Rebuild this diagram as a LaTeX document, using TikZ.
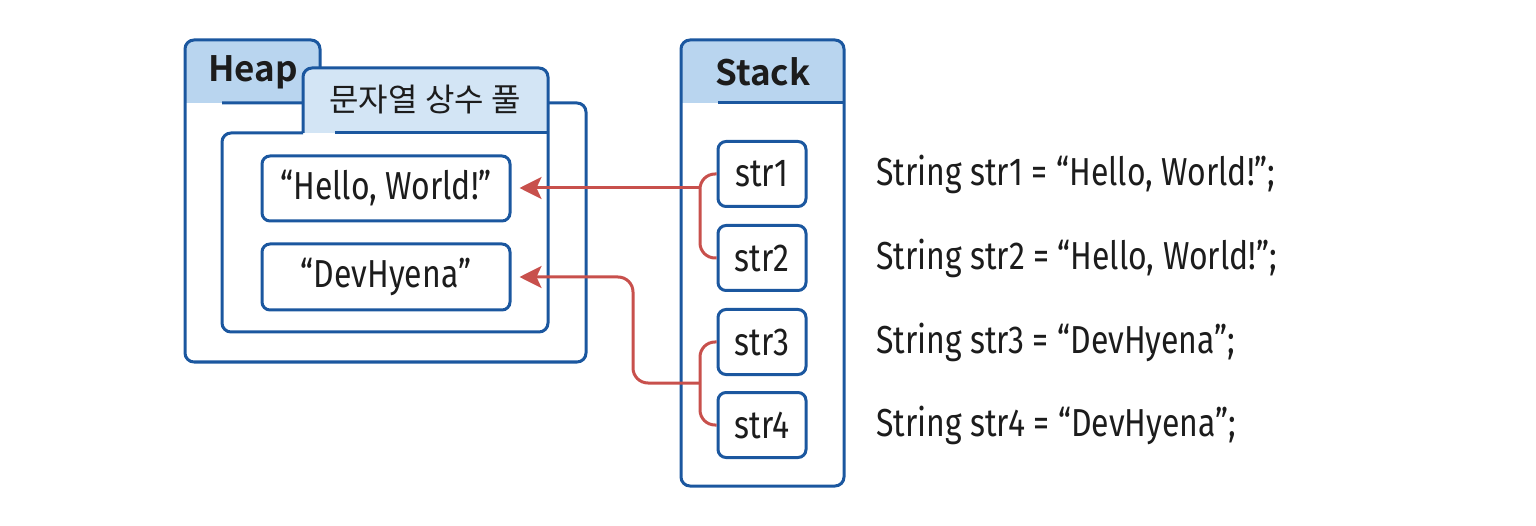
\documentclass[tikz,border=0pt]{standalone}
\usepackage{fontspec}
\usetikzlibrary{arrows.meta}
\newfontfamily\cond[FakeStretch=0.82]{Fira Sans}
\newfontfamily\kr[BoldFont={Noto Sans CJK KR Bold}]{Noto Sans CJK KR}
\definecolor{bordblue}{HTML}{1B579F}
\definecolor{headblue}{HTML}{B9D5EF}
\definecolor{poolblue}{HTML}{D3E5F5}
\definecolor{arrred}{HTML}{C8504C}
\definecolor{ink}{HTML}{1C1C1C}
\tikzset{
  frame/.style={draw=bordblue, line width=3pt, rounded corners=9pt, line join=round},
  strbox/.style={draw=bordblue, line width=3pt, rounded corners=8pt, fill=white,
    text=ink, font=\cond\fontsize{39}{41}\selectfont, inner sep=0pt},
  code/.style={anchor=west, text=ink, font=\cond\fontsize{39}{41}\selectfont, inner sep=0pt},
  title/.style={text=ink, font=\kr\bfseries\fontsize{35}{37}\selectfont, inner sep=0pt},
  link/.style={draw=arrred, line width=3pt, rounded corners=15pt},
  tip/.style={draw=arrred, line width=3pt, -{Stealth[length=22pt,width=22pt,inset=5pt]}},
}
\begin{document}
\begin{tikzpicture}[x=1pt,y=-1pt]
\useasboundingbox (0,0) rectangle (1536,526);
% Heap folder
\fill[headblue, rounded corners=9pt] (185,103) -- (185,40) -- (320,40) -- (320,103) -- cycle;
\fill[headblue] (185,80) rectangle (320,103);
\draw[frame] (320,103) -- (320,40) -- (185,40) -- (185,362) -- (586,362) -- (586,103) -- (222,103);
\node[title] (heap) at (253,72) {Heap};
% String pool folder
\fill[poolblue, rounded corners=9pt] (303,133) -- (303,68) -- (548,68) -- (548,133) -- cycle;
\fill[poolblue] (303,110) rectangle (548,133);
\draw[frame] (303,133) -- (303,68) -- (548,68) -- (548,332) -- (222,332) -- (222,133) -- (303,133);
\draw[bordblue, line width=3pt] (335,133) -- (548,133);
\node[text=ink, font=\kr\fontsize{32}{34}\selectfont, inner sep=0pt] (pool) at (425,100) {문자열 상수 풀};
% heap strings
\node[strbox, minimum width=248pt, minimum height=65pt] (hello) at (386,188.5) {“Hello, World!”};
\node[strbox, minimum width=248pt, minimum height=66pt] (dev) at (386,277) {“DevHyena”};
% Stack
\fill[headblue, rounded corners=9pt] (681,103) -- (681,40) -- (844,40) -- (844,103) -- cycle;
\fill[headblue] (681,80) rectangle (844,103);
\draw[frame] (681,40) rectangle (844,486);
\draw[bordblue, line width=3pt] (718,103) -- (844,103);
\node[title] (stack) at (763,72) {Stack};
% stack variables
\node[strbox, minimum width=88pt, minimum height=65pt] (s1) at (762,174) {str1};
\node[strbox, minimum width=88pt, minimum height=65pt] (s2) at (762,258) {str2};
\node[strbox, minimum width=88pt, minimum height=65pt] (s3) at (762,342) {str3};
\node[strbox, minimum width=88pt, minimum height=65pt] (s4) at (762,425) {str4};
% code lines
\node[code] (c1) at (876,174) {String str1 = “Hello, World!”;};
\node[code] (c2) at (876,258) {String str2 = “Hello, World!”;};
\node[code] (c3) at (876,342) {String str3 = “DevHyena”;};
\node[code] (c4) at (876,425) {String str4 = “DevHyena”;};
% connectors
\coordinate (j1) at (700,188);
\coordinate (j2) at (700,383);
\draw[link] (s1.west) -- (s1.west -| j1) -- (s2.west -| j1) -- (s2.west);
\draw[link] (s3.west) -- (s3.west -| j2) -- (s4.west -| j2) -- (s4.west);
\draw[tip] (j1) -- ([xshift=8pt]hello.east |- j1);
\draw[tip, rounded corners=15pt] (j2) -| (633,277) -- ([xshift=8pt]dev.east);
\end{tikzpicture}
\end{document}
